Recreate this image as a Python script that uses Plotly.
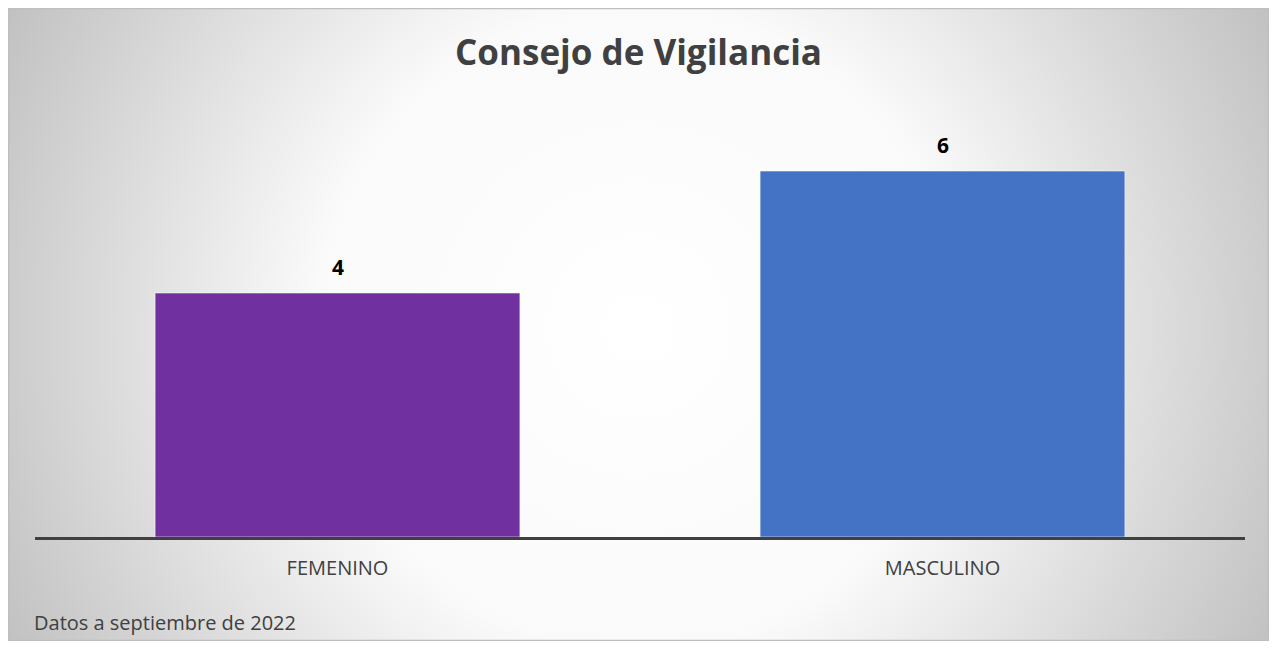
import base64
import plotly.graph_objects as go

# ---- data ----
categories = ["FEMENINO", "MASCULINO"]
values = [4, 6]
bar_colors = ["#7030A0", "#4472C4"]
title_text = "Consejo de Vigilancia"
footnote = "Datos a septiembre de 2022"

W, H = 1261, 633
L, R, T, B = 27, 24, 102, 104

# radial gradient background as SVG
svg = f'''<svg xmlns="http://www.w3.org/2000/svg" width="{W}" height="{H}" viewBox="0 0 {W} {H}" preserveAspectRatio="none">
<defs><radialGradient id="g" gradientUnits="userSpaceOnUse" cx="{W/2}" cy="{H/2+4}" r="715">
<stop offset="0" stop-color="#ffffff"/><stop offset="0.45" stop-color="#fafafa"/><stop offset="1" stop-color="#c0c0c0"/>
</radialGradient></defs>
<rect x="0" y="0" width="{W}" height="{H}" fill="url(#g)"/>
</svg>'''
src = "data:image/svg+xml;base64," + base64.b64encode(svg.encode()).decode()

pw, ph = W - L - R, H - T - B

fig = go.Figure()
fig.add_trace(go.Bar(
    x=categories, y=values,
    marker=dict(color=bar_colors, line=dict(color="rgba(255,255,255,0.55)", width=1)),
    hoverinfo="skip",
))

annotations = []
for c, v in zip(categories, values):
    annotations.append(dict(x=c, y=v, xref="x", yref="y", text=f"<b>{v}</b>", showarrow=False,
                            yshift=26, font=dict(size=21, color="#000000", family="Open Sans")))
annotations.append(dict(x=-3 / pw, y=-(614 - (H - B)) / ph, xref="paper", yref="paper", text=footnote,
                        showarrow=False, xanchor="left", yanchor="middle",
                        font=dict(size=20, color="#404040", family="Open Sans")))

fig.update_layout(
    width=W, height=H,
    margin=dict(l=L, r=R, t=T, b=B),
    paper_bgcolor="#ffffff", plot_bgcolor="rgba(0,0,0,0)",
    title=dict(text=f"<b>{title_text}</b>", x=0.5, xanchor="center", y=1 - 45 / H, yanchor="middle",
               font=dict(size=35, color="#404040", family="Open Sans")),
    bargap=0.397,
    showlegend=False,
    xaxis=dict(showline=True, linecolor="#404040", linewidth=3, showgrid=False, zeroline=False,
               ticks="", ticklabelstandoff=11,
               tickfont=dict(size=20, color="#404040", family="Open Sans")),
    yaxis=dict(range=[0, 7], showgrid=False, zeroline=False, showticklabels=False, showline=False),
    images=[dict(source=src, xref="paper", yref="paper", x=-L / pw, y=1 + T / ph,
                 sizex=W / pw, sizey=H / ph, sizing="stretch", xanchor="left", yanchor="top",
                 layer="below")],
    shapes=[dict(type="rect", xref="paper", yref="paper", x0=-L / pw + 0.0005, x1=1 + R / pw - 0.0005,
                 y0=-B / ph + 0.001, y1=1 + T / ph - 0.001, line=dict(color="#bfbfbf", width=1.5),
                 fillcolor="rgba(0,0,0,0)", layer="above")],
    annotations=annotations,
)

fig.write_html("out.html")
